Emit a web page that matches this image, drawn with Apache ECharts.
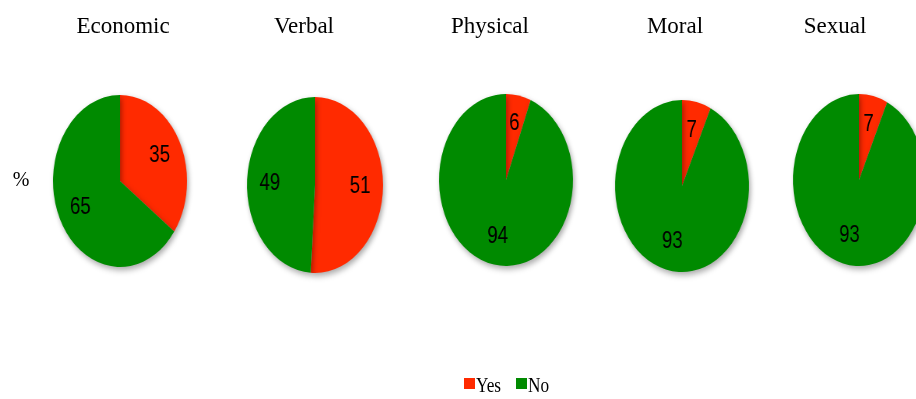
<!DOCTYPE html>
<html>
<head>
<meta charset="utf-8">
<script src="https://cdn.jsdelivr.net/npm/echarts@6/dist/echarts.min.js"></script>
<style>
    html, body { margin: 0; padding: 0; background: #fff; overflow: hidden; }
    #main { position: absolute; left: 0; top: 0; width: 916px; height: 399px; }
    .pie { position: absolute; width: 240px; height: 240px; }
</style>
</head>
<body>
<div id="main"></div>
<div id="pies"></div>
<script>
    // data (percent)
    var categories = ['Economic', 'Verbal', 'Physical', 'Moral', 'Sexual'];
    var yesValues = [35, 51, 6, 7, 7];
    var noValues = [65, 49, 94, 93, 93];
    var seriesNames = ['Yes', 'No'];
    var colors = ['#ff2a00', '#008a00'];

    // where each pie sits (center x, center y, half width, half height)
    var pieBox = [
        [120, 181, 67, 86],
        [315, 185, 68, 88],
        [506, 180, 67, 86],
        [682, 186, 67, 86],
        [859, 180, 66, 86]
    ];
    var titleX = [123, 304, 490, 675, 835];

    var mainChart = echarts.init(document.getElementById('main'));
    var graphics = [];
    for (var i = 0; i < categories.length; i++) {
        graphics.push({
            type: 'text', x: titleX[i], y: 27,
            style: {
                text: categories[i], fill: '#000', align: 'center', verticalAlign: 'middle',
                font: '23px "Liberation Serif", "Times New Roman", serif'
            }
        });
    }
    graphics.push({
        type: 'text', x: 21, y: 181,
        style: { text: '%', fill: '#000', align: 'center', verticalAlign: 'middle',
            font: '20px "Liberation Serif", serif' }
    });
    // legend
    var legX = [464, 516];
    for (var k = 0; k < seriesNames.length; k++) {
        graphics.push({ type: 'rect', shape: { x: legX[k], y: 378, width: 11, height: 11 }, style: { fill: colors[k] } });
        graphics.push({
            type: 'text', x: legX[k] + 12, y: 386, scaleX: 0.82, originX: 0,
            style: { text: seriesNames[k], fill: '#000', align: 'left', verticalAlign: 'middle',
                font: '21px "Liberation Serif", serif' }
        });
    }
    mainChart.setOption({ animation: false, graphic: graphics });

    var holder = document.getElementById('pies');
    for (var p = 0; p < categories.length; p++) {
        var b = pieBox[p];
        var div = document.createElement('div');
        div.className = 'pie';
        div.style.left = (b[0] - 120) + 'px';
        div.style.top = (b[1] - 120) + 'px';
        div.style.transform = 'scaleX(' + (b[2] / b[3]) + ')';
        holder.appendChild(div);
        var data = [
            { name: seriesNames[0], value: yesValues[p], itemStyle: { color: colors[0] } },
            { name: seriesNames[1], value: noValues[p], itemStyle: { color: colors[1] } }
        ];
        var chart = echarts.init(div);
        chart.setOption({
            animation: false,
            series: [
                {
                    type: 'pie',
                    center: ['50%', '50%'],
                    radius: b[3],
                    startAngle: 90,
                    silent: true,
                    label: { show: false },
                    labelLine: { show: false },
                    itemStyle: { shadowBlur: 6, shadowColor: 'rgba(0,0,0,0.35)', shadowOffsetX: 2, shadowOffsetY: 3 },
                    data: data
                },
                {
                    // transparent ring used only to place the labels a bit further out
                    type: 'pie',
                    center: ['50%', '50%'],
                    radius: b[3] * 1.26,
                    startAngle: 90,
                    silent: true,
                    itemStyle: { color: 'rgba(0,0,0,0)' },
                    label: {
                        show: true, position: 'inside', formatter: '{c}', color: '#000',
                        fontSize: 24, fontFamily: '"Liberation Sans", Arial, sans-serif'
                    },
                    labelLine: { show: false },
                    data: data.map(function (d) { return { name: d.name, value: d.value, itemStyle: { color: 'rgba(0,0,0,0)' } }; })
                }
            ]
        });
    }
</script>
</body>
</html>
